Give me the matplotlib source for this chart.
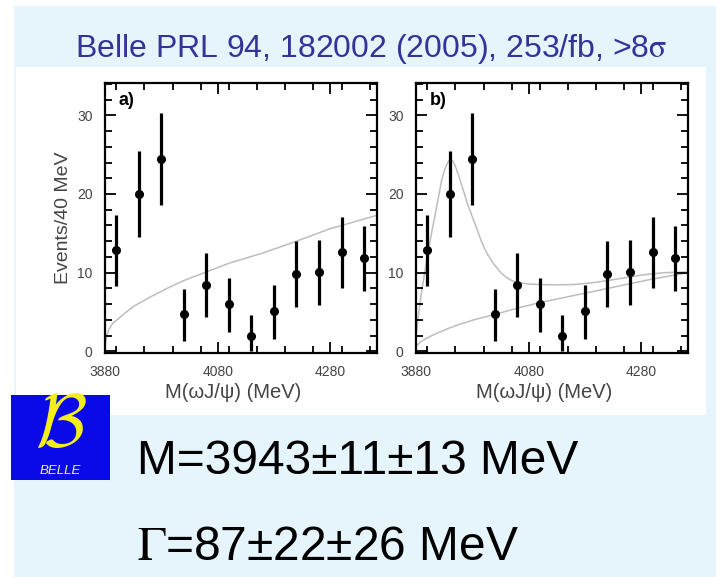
import numpy as np
import matplotlib.pyplot as plt
from matplotlib.patches import Rectangle
from matplotlib.ticker import MultipleLocator, FixedLocator

# omega J/psi mass spectrum, 40 MeV bins
bin_centers = [3900, 3940, 3980, 4020, 4060, 4100, 4140, 4180, 4220, 4260, 4300, 4340]
counts = [12.9, 20.0, 24.5, 4.7, 8.4, 6.0, 2.0, 5.1, 9.8, 10.1, 12.6, 11.9]
err_high = [17.3, 25.4, 30.3, 7.9, 12.5, 9.3, 4.6, 8.5, 14.0, 14.2, 17.1, 15.9]
err_low = [8.3, 14.5, 18.6, 1.3, 4.4, 2.5, 0.1, 1.6, 5.6, 5.9, 8.1, 7.7]

# a) background-only fit
bkg_a_x = [3881, 3883, 3887, 3893, 3906, 3930, 3960, 3990, 4020, 4060, 4100,
           4160, 4220, 4280, 4320, 4363]
bkg_a_y = [1.2, 2.0, 2.8, 3.5, 4.3, 5.7, 6.9, 8.0, 9.0, 10.1, 11.2,
           12.5, 14.0, 15.6, 16.4, 17.3]

# b) signal + background fit, and the background part
fit_b_x = [3881, 3885, 3890, 3895, 3899, 3904, 3908, 3913, 3917, 3922, 3926,
           3931, 3935, 3939, 3942, 3945, 3949, 3953, 3958, 3962, 3967, 3971,
           3976, 3982, 3988, 3995, 4002, 4010, 4017, 4025, 4032, 4040, 4047,
           4056, 4065, 4082, 4100, 4130, 4160, 4190, 4220, 4250, 4280, 4320, 4363]
fit_b_y = [2.6, 5.0, 7.6, 9.8, 11.6, 13.6, 15.2, 17.0, 18.5, 20.4, 21.9,
           23.1, 23.8, 24.3, 24.4, 24.2, 23.7, 22.9, 21.9, 20.9, 19.8, 18.8,
           17.9, 16.7, 15.6, 14.2, 13.0, 12.0, 11.2, 10.5, 9.9, 9.45, 9.1,
           8.85, 8.7, 8.55, 8.5, 8.45, 8.5, 8.7, 9.0, 9.35, 9.7, 10.0, 10.1]
bkg_b_x = [3881, 3885, 3890, 3897, 3905, 3920, 3940, 3960, 3982, 4020, 4060,
           4100, 4140, 4180, 4220, 4260, 4300, 4340, 4363]
bkg_b_y = [0.7, 1.0, 1.3, 1.6, 1.9, 2.4, 3.0, 3.5, 4.0, 4.7, 5.5,
           6.2, 6.8, 7.4, 8.0, 8.6, 9.2, 9.7, 10.0]

x_ticks = [3880, 4080, 4280]
y_ticks = [0, 10, 20, 30]

W, H = 716, 577
fig = plt.figure(figsize=(W / 100, H / 100), dpi=100)
fig.patch.set_facecolor("white")


def px_rect(x0, y0, x1, y1):
    # figure-fraction rectangle from pixel corners (origin top-left)
    return [x0 / W, 1 - y1 / H, (x1 - x0) / W, (y1 - y0) / H]


l, b, w, h = px_rect(14, 6, 716, 577)
fig.patches.append(Rectangle((l, b), w, h, transform=fig.transFigure,
                             facecolor="#e6f4fc", edgecolor="none", zorder=-10))
l, b, w, h = px_rect(16, 67, 706, 415)
fig.patches.append(Rectangle((l, b), w, h, transform=fig.transFigure,
                             facecolor="white", edgecolor="none", zorder=-9))

fig.text(371 / W, 1 - 57 / H,
         r"Belle PRL 94, 182002 (2005), 253/fb, >8$\mathrm{\sigma}$",
         ha="center", va="baseline", fontsize=23, color="#333399",
         family="Liberation Sans", math_fontfamily="stix")

tick_color = "#444444"


def draw_panel(rect, label, curves):
    ax = fig.add_axes(px_rect(*rect))
    for cx, cy in curves:
        ax.plot(cx, cy, color="#bdbdbd", lw=1.1, zorder=1)
    lo = np.array(counts) - np.array(err_low)
    hi = np.array(err_high) - np.array(counts)
    ax.errorbar(bin_centers, counts, yerr=[lo, hi], fmt="o", color="black",
                ms=5.5, elinewidth=2.3, capsize=0, zorder=3)
    ax.set_xlim(3880, 4363)
    ax.set_ylim(-0.2, 34.1)
    ax.xaxis.set_major_locator(FixedLocator(x_ticks))
    ax.xaxis.set_minor_locator(MultipleLocator(50))
    ax.yaxis.set_major_locator(FixedLocator(y_ticks))
    ax.yaxis.set_minor_locator(MultipleLocator(2))
    ax.tick_params(which="both", direction="in", top=True, right=True,
                   width=1.3, colors="black", labelcolor=tick_color,
                   labelsize=10)
    ax.tick_params(which="major", length=8, pad=9)
    ax.tick_params(which="minor", length=5)
    for lab in ax.get_xticklabels() + ax.get_yticklabels():
        lab.set_family("Liberation Sans")
    for sp in ax.spines.values():
        sp.set_linewidth(1.6)
    ax.text(0.05, 0.965, label, transform=ax.transAxes, ha="left", va="top",
            fontsize=13, fontweight="bold", family="Liberation Sans")
    ax.text(0.47, -0.145, "M(\u03c9J/\u03c8) (MeV)", transform=ax.transAxes,
            ha="center", va="center", fontsize=14.5, color=tick_color,
            family="Liberation Sans")
    return ax


ax_a = draw_panel((105, 83, 377, 353), "a)", [(bkg_a_x, bkg_a_y)])
ax_b = draw_panel((416, 83, 688, 353), "b)",
                  [(fit_b_x, fit_b_y), (bkg_b_x, bkg_b_y)])

fig.text(64 / W, 1 - 218 / H, "Events/40 MeV", rotation=90, ha="center",
         va="center", fontsize=14, color=tick_color, family="Liberation Sans")

# Belle logo
logo = fig.add_axes(px_rect(11, 395, 110, 480))
logo.set_facecolor("#0a0ae8")
logo.set_xticks([])
logo.set_yticks([])
for sp in logo.spines.values():
    sp.set_visible(False)
logo.text(0.5, 0.64, r"$\mathcal{B}$", transform=logo.transAxes, ha="center",
          va="center", fontsize=54, color="#f2ee1c", math_fontfamily="cm")
logo.text(0.5, 0.1, "BELLE", transform=logo.transAxes, ha="center",
          va="center", fontsize=9.5, style="italic", color="#eeeeaa",
          family="Liberation Sans")

fig.text(137 / W, 1 - 474 / H, "M=3943\u00b111\u00b113 MeV", ha="left",
         va="baseline", fontsize=34.5, color="black", family="Liberation Sans")
fig.text(137 / W, 1 - 560 / H, "$\\Gamma$=87\u00b122\u00b126 MeV", ha="left",
         va="baseline", fontsize=34.5, color="black",
         family="Liberation Sans", math_fontfamily="stix")

fig.savefig("out.png", dpi=100)
